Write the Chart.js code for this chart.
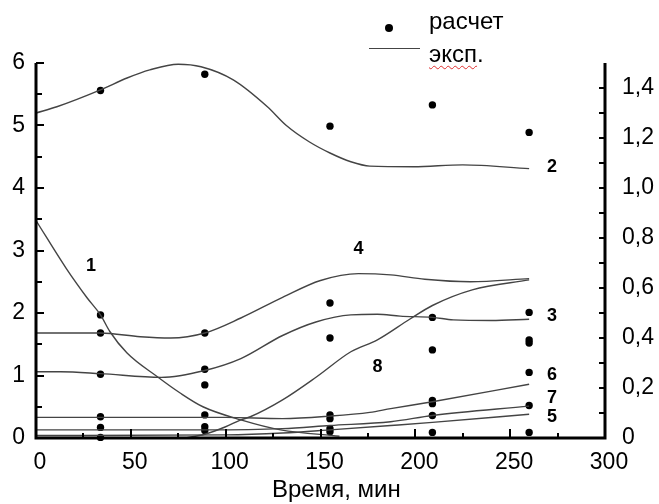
<!DOCTYPE html>
<html>
<head>
<meta charset="utf-8">
<script src="https://cdn.jsdelivr.net/npm/chart.js@4.4.1/dist/chart.umd.min.js"></script>
<style>
  body { margin: 0; background: #fff; }
  #wrap { position: relative; width: 659px; height: 504px; font-family: "Liberation Sans", Arial, sans-serif; color: #000; }
  #wrap canvas { position: absolute; left: 0; top: 0; }
  .txt { position: absolute; white-space: nowrap; line-height: 24px; }
  .spell { text-decoration: underline wavy #e03030; text-decoration-thickness: 1px; text-underline-offset: 3px; }
</style>
</head>
<body>
<div id="wrap">
  <canvas id="chart" width="659" height="504"></canvas>
  <div style="position:absolute; left:385px; top:24px; width:8px; height:8px; border-radius:50%; background:#000;"></div>
  <div class="txt" style="left:429px; top:9px; font-size:24px;">расчет</div>
  <div style="position:absolute; left:369px; top:48px; width:51px; height:1px; background:#444;"></div>
  <div class="txt" style="left:429px; top:42px; font-size:24px;"><span class="spell">эксп</span>.</div>
  <div class="txt" style="left:272px; top:477px; font-size:24px;">Время, мин</div>
</div>
<script>
// ---------------- DATA ----------------

// calculated points (расчет), left axis units
const calcTimes = [34, 89, 155, 209, 260];
const calcValues = [
    [5.56, 1.97, 1.68, 1.02, 0.34, 0.17, 0.01],
    [5.82, 1.68, 1.10, 0.85, 0.37, 0.18, 0.12],
    [4.99, 2.16, 1.60, 0.37, 0.31, 0.15, 0.10],
    [5.33, 1.93, 1.41, 0.60, 0.55, 0.36, 0.09],
    [4.89, 2.01, 1.57, 1.52, 1.05, 0.52, 0.09]
];

// experimental curves (эксп.), [time, value]
const curve1 = [[0, 3.48], [16, 2.71], [27, 2.24], [34, 1.97], [39, 1.70], [48, 1.36], [64, 0.98],
    [76, 0.72], [88, 0.50], [108, 0.29], [129, 0.13], [160, 0.03]];
const curve2 = [[0, 5.2], [11, 5.3], [34, 5.57], [48, 5.76], [60, 5.89], [75, 5.98], [87, 5.94],
    [104, 5.73], [122, 5.3], [132, 5.0], [144, 4.74], [155, 4.56], [166, 4.42], [176, 4.35],
    [199, 4.34], [225, 4.37], [260, 4.31]];
const curve3 = [[0, 1.06], [13, 1.06], [34, 1.03], [66, 0.97], [89, 1.08], [108, 1.27], [130, 1.64],
    [148, 1.86], [166, 1.97], [180, 1.98], [192, 1.95], [209, 1.93], [220, 1.89], [240, 1.88], [260, 1.9]];
const curve4 = [[0, 1.68], [34, 1.68], [55, 1.62], [71, 1.6], [89, 1.68], [108, 1.92], [130, 2.25],
    [150, 2.52], [170, 2.63], [187, 2.61], [205, 2.54], [229, 2.5], [260, 2.55]];
const curve5 = [[0, 0.04], [100, 0.05], [130, 0.08], [155, 0.13], [187, 0.2], [209, 0.25], [260, 0.38]];
const curve6 = [[0, 0.33], [50, 0.33], [100, 0.33], [130, 0.31], [155, 0.35], [176, 0.41], [187, 0.47],
    [209, 0.58], [260, 0.86]];
const curve7 = [[0, 0.13], [90, 0.13], [130, 0.15], [155, 0.2], [187, 0.26], [209, 0.36], [260, 0.51]];
const curve8 = [[78, 0], [89, 0.06], [100, 0.18], [108, 0.29], [113, 0.34], [130, 0.61], [148, 0.98],
    [166, 1.38], [180, 1.57], [197, 1.9], [209, 2.12], [230, 2.37], [260, 2.53]];

const curveNames = ["1", "2", "3", "4", "5", "6", "7", "8"];

// ticks
const xTicks = [0, 50, 100, 150, 200, 250, 300];
const leftTicks = [0, 1, 2, 3, 4, 5, 6];
const rightTicks = [0, 0.2, 0.4, 0.6, 0.8, 1.0, 1.2, 1.4];
const rightTickLabels = ["0", "0,2", "0,4", "0,6", "0,8", "1,0", "1,2", "1,4"];

// ---------------- CHART ----------------

const FONT = "'Liberation Sans', Arial, sans-serif";

const curves = [curve1, curve2, curve3, curve4, curve5, curve6, curve7, curve8];

const lineSets = curves.map((c, i) => ({
    label: "эксп. " + curveNames[i],
    data: c.map(p => ({ x: p[0], y: p[1] })),
    showLine: true,
    borderColor: "#444",
    borderWidth: 1.4,
    pointRadius: 0,
    cubicInterpolationMode: "monotone",
    yAxisID: "y"
}));

const calcPoints = [];
calcTimes.forEach((t, i) => {
    calcValues[i].forEach(v => calcPoints.push({ x: t, y: v }));
});

const calcSet = {
    label: "расчет",
    data: calcPoints,
    showLine: false,
    pointRadius: 3.7,
    pointBackgroundColor: "#000",
    pointBorderWidth: 0,
    clip: false,
    yAxisID: "y"
};

// where each curve number is written (data coordinates)
const curveLabelPos = [[29, 2.75], [272, 4.34], [272, 1.95], [170, 3.02], [272, 0.34], [272, 1.0], [272, 0.64], [180, 1.14]];

const curveLabels = {
    id: "curveLabels",
    afterDatasetsDraw(chart) {
        const ctx = chart.ctx;
        ctx.save();
        ctx.fillStyle = "#000";
        ctx.font = "bold 18px " + FONT;
        ctx.textAlign = "center";
        ctx.textBaseline = "middle";
        curveNames.forEach((n, i) => {
            const p = curveLabelPos[i];
            ctx.fillText(n, chart.scales.x.getPixelForValue(p[0]), chart.scales.y.getPixelForValue(p[1]));
        });
        ctx.restore();
    }
};

// axis lines with inward ticks
const axesFrame = {
    id: "axesFrame",
    afterDraw(chart) {
        const ctx = chart.ctx;
        const a = chart.chartArea;
        const sx = chart.scales.x, sy = chart.scales.y, sy2 = chart.scales.y2;
        ctx.save();
        ctx.strokeStyle = "#000";
        ctx.lineWidth = 3;
        ctx.beginPath();
        ctx.moveTo(a.left, a.top);
        ctx.lineTo(a.left, a.bottom);
        ctx.lineTo(a.right, a.bottom);
        ctx.lineTo(a.right, a.top);
        ctx.stroke();

        ctx.lineWidth = 2;
        ctx.beginPath();
        for (let v = 0.5; v <= 6; v += 0.5) {
            const p = Math.round(sy.getPixelForValue(v));
            ctx.moveTo(a.left, p);
            ctx.lineTo(a.left + (v % 1 === 0 ? 8 : 6), p);
        }
        for (let v = 0.1; v <= 1.45; v += 0.1) {
            const p = Math.round(sy2.getPixelForValue(v));
            ctx.moveTo(a.right, p);
            ctx.lineTo(a.right - 6, p);
        }
        for (let v = 25; v < 300; v += 25) {
            const p = Math.round(sx.getPixelForValue(v));
            ctx.moveTo(p, a.bottom);
            ctx.lineTo(p, a.bottom - (v % 50 === 0 ? 9 : 5));
        }
        ctx.stroke();
        ctx.restore();
    }
};

const tickFont = { family: FONT, size: 23 };

new Chart(document.getElementById("chart"), {
    type: "scatter",
    data: { datasets: [...lineSets, calcSet] },
    options: {
        responsive: false,
        animation: false,
        layout: { padding: { top: 63, left: 0, right: 0, bottom: 0 } },
        plugins: {
            legend: { display: false },
            tooltip: { enabled: false }
        },
        scales: {
            x: {
                type: "linear",
                min: 0,
                max: 300,
                grid: { display: false, drawTicks: false },
                border: { display: false },
                ticks: { color: "#000", font: tickFont, padding: 11, labelOffset: 4 },
                afterBuildTicks: s => { s.ticks = xTicks.map(v => ({ value: v })); },
                afterFit: s => { s.height = 66; }
            },
            y: {
                position: "left",
                min: 0,
                max: 6,
                grid: { display: false, drawTicks: false },
                border: { display: false },
                ticks: { color: "#000", font: tickFont, padding: 11 },
                afterBuildTicks: s => { s.ticks = leftTicks.map(v => ({ value: v })); },
                afterFit: s => { s.width = 36; }
            },
            y2: {
                position: "right",
                min: 0,
                max: 1.5,
                grid: { display: false, drawTicks: false },
                border: { display: false },
                ticks: {
                    color: "#000",
                    font: tickFont,
                    padding: 17,
                    callback: (value, index) => rightTickLabels[index]
                },
                afterBuildTicks: s => { s.ticks = rightTicks.map(v => ({ value: v })); },
                afterFit: s => { s.width = 54; }
            }
        }
    },
    plugins: [curveLabels, axesFrame]
});
</script>
</body>
</html>
